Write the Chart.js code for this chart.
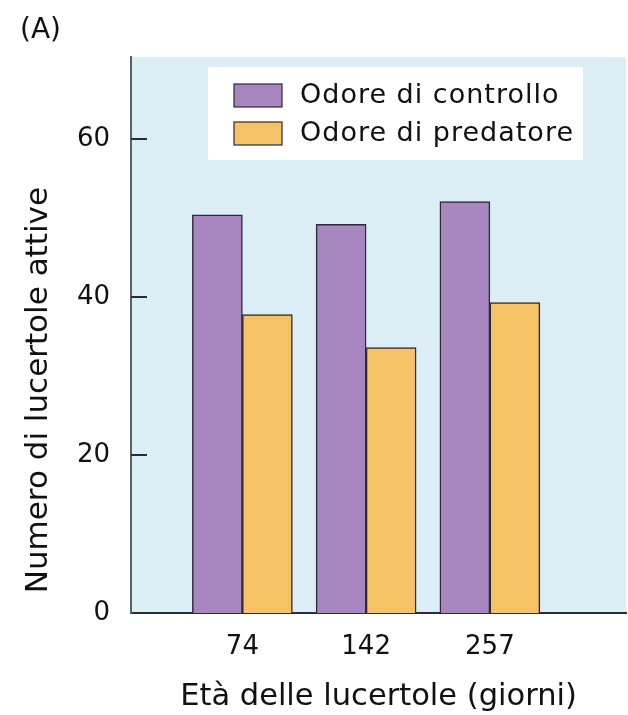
<!DOCTYPE html>
<html>
<head>
<meta charset="utf-8">
<script src="https://cdn.jsdelivr.net/npm/chart.js@4.4.0/dist/chart.umd.min.js"></script>
<style>
  html, body { margin: 0; padding: 0; background: #ffffff; }
  #wrap { width: 628px; height: 715px; position: relative; }
</style>
</head>
<body>
<div id="wrap"><canvas id="c" width="628" height="715"></canvas></div>
<script>
const categories = ['74', '142', '257'];
const controlValues = [50.4, 49.2, 52.1];
const predatorValues = [37.8, 33.6, 39.3];
const yTickValues = [0, 20, 40, 60];
const seriesNames = ['Odore di controllo', 'Odore di predatore'];
const panelLabel = '(A)';
const xTitle = 'Età delle lucertole (giorni)';
const yTitle = 'Numero di lucertole attive';

const FONT = "'DejaVu Sans', 'Liberation Sans', Arial, sans-serif";
const PURPLE = '#A887C0';
const ORANGE = '#F5C266';
const EDGE = '#2b2b38';

const toPoints = vals => vals.map((v, i) => ({ x: i + 1, y: v }));

const bgPlugin = {
  id: 'plotBg',
  beforeDraw(chart) {
    const { ctx, chartArea: a } = chart;
    ctx.save();
    ctx.fillStyle = '#DBEEF6';
    ctx.fillRect(a.left, a.top, a.right - a.left, a.bottom - a.top);
    ctx.restore();
  }
};

const tickMarkPlugin = {
  id: 'innerTicks',
  afterDraw(chart) {
    const { ctx, chartArea: a } = chart;
    const y = chart.scales.y;
    ctx.save();
    ctx.strokeStyle = '#2a2a2a';
    ctx.lineWidth = 2;
    y.ticks.forEach(t => {
      if (t.value === 0) return;
      const py = Math.round(y.getPixelForValue(t.value));
      ctx.beginPath();
      ctx.moveTo(a.left, py);
      ctx.lineTo(a.left + 16, py);
      ctx.stroke();
    });
    ctx.restore();
  }
};

const legendPlugin = {
  id: 'boxLegend',
  afterDraw(chart) {
    const { ctx, chartArea: a } = chart;
    const bx = a.left + 77, by = a.top + 10, bw = 375, bh = 93;
    ctx.save();
    ctx.fillStyle = '#ffffff';
    ctx.fillRect(bx, by, bw, bh);
    const rows = [by + 29, by + 67];
    chart.data.datasets.forEach((ds, i) => {
      const cy = rows[i];
      ctx.fillStyle = ds.backgroundColor;
      ctx.fillRect(bx + 26, cy - 12, 48, 23);
      ctx.strokeStyle = EDGE;
      ctx.lineWidth = 1.2;
      ctx.strokeRect(bx + 26, cy - 12, 48, 23);
      ctx.fillStyle = '#111111';
      ctx.font = '27px ' + FONT;
      if ('letterSpacing' in ctx) ctx.letterSpacing = '1px';
      ctx.textBaseline = 'middle';
      ctx.textAlign = 'left';
      ctx.fillText(ds.label, bx + 92, cy);
    });
    ctx.restore();
  }
};

new Chart(document.getElementById('c'), {
  type: 'bar',
  data: {
    datasets: [
      { label: seriesNames[0], data: toPoints(controlValues), backgroundColor: PURPLE, borderColor: EDGE, borderWidth: 1.5 },
      { label: seriesNames[1], data: toPoints(predatorValues), backgroundColor: ORANGE, borderColor: EDGE, borderWidth: 1.5 }
    ]
  },
  options: {
    responsive: false,
    animation: false,
    barThickness: 50,
    layout: { padding: { left: 20, right: 2, top: 0, bottom: 0 } },
    plugins: {
      legend: { display: false },
      tooltip: { enabled: false },
      title: {
        display: true,
        text: panelLabel,
        align: 'start',
        color: '#111111',
        font: { family: FONT, size: 28, weight: 'normal', lineHeight: 1.2 },
        padding: { top: 14, bottom: 9.4 }
      }
    },
    scales: {
      x: {
        type: 'linear',
        offset: false,
        min: 0.1,
        max: 4.1,
        grid: { display: false, drawTicks: false },
        border: { display: true, color: '#2a2f33', width: 2 },
        afterBuildTicks: s => { s.ticks = categories.map((c, i) => ({ value: i + 1 })); },
        afterFit: s => { s.height = 102; },
        ticks: {
          padding: 19,
          color: '#111111',
          font: { family: FONT, size: 26 },
          maxRotation: 0,
          autoSkip: false,
          callback: v => categories[v - 1]
        },
        title: {
          display: true,
          text: xTitle,
          color: '#111111',
          font: { family: FONT, size: 30.5, lineHeight: 1.2 },
          padding: { top: 0, bottom: 0 }
        }
      },
      y: {
        min: 0,
        max: 70.4,
        grid: { display: false, drawTicks: false },
        border: { display: true, color: '#56616b', width: 2 },
        afterBuildTicks: s => { s.ticks = yTickValues.map(v => ({ value: v })); },
        afterFit: s => { s.width = 111; },
        ticks: {
          padding: 21,
          color: '#111111',
          font: { family: FONT, size: 26 }
        },
        title: {
          display: true,
          text: '  ' + yTitle,
          align: 'start',
          color: '#111111',
          font: { family: FONT, size: 31, lineHeight: 1.2 },
          padding: { top: 0, bottom: 0 }
        }
      }
    }
  },
  plugins: [bgPlugin, tickMarkPlugin, legendPlugin]
});
</script>
</body>
</html>
